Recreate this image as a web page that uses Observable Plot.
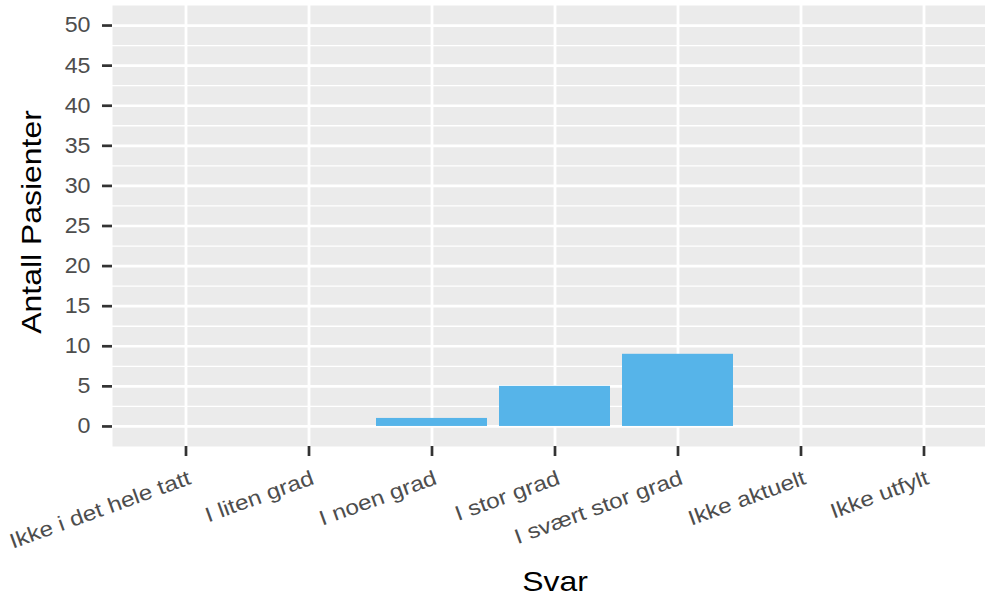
<!DOCTYPE html>
<html>
<head>
<meta charset="utf-8">
<script src="https://cdn.jsdelivr.net/npm/d3@7"></script>
<script src="https://cdn.jsdelivr.net/npm/@observablehq/plot@0.6"></script>
<style>
  html, body { margin: 0; padding: 0; background: #ffffff; }
  #chart svg { display: block; }
</style>
</head>
<body>
<div id="chart"></div>
<script>
const categories = ["Ikke i det hele tatt", "I liten grad", "I noen grad", "I stor grad", "I svært stor grad", "Ikke aktuelt", "Ikke utfylt"];
const counts = [0, 0, 1, 5, 9, 0, 0];
const yTicks = [0, 5, 10, 15, 20, 25, 30, 35, 40, 45, 50];
const yMinor = [2.5, 7.5, 12.5, 17.5, 22.5, 27.5, 32.5, 37.5, 42.5, 47.5];
const xTitle = "Svar";
const yTitle = "Antall Pasienter";

const data = categories.map((c, i) => ({svar: c, n: counts[i]}));

const chart = Plot.plot({
  width: 985,
  height: 600,
  marginLeft: 112,
  marginRight: 0,
  marginTop: 5,
  marginBottom: 154,
  style: {fontFamily: "'Liberation Sans', Arial, sans-serif", background: "#ffffff", overflow: "visible"},
  x: {type: "band", domain: categories, range: [123.5, 984.5], paddingInner: 0.1, paddingOuter: 0.05, axis: null},
  y: {domain: [-2.5, 52.5], axis: null},
  marks: [
    Plot.frame({fill: "#EBEBEB", stroke: "none"}),
    Plot.ruleY(yMinor, {stroke: "#ffffff", strokeWidth: 1.3}),
    Plot.ruleY(yTicks, {stroke: "#ffffff", strokeWidth: 2.7}),
    Plot.ruleX(categories, {x: d => d, stroke: "#ffffff", strokeWidth: 2.8}),
    Plot.barY(data, {x: "svar", y: "n", fill: "#56B4E9"}),
    Plot.axisY({ticks: yTicks, tickSize: 10, tickFormat: () => "", stroke: "#333333", strokeWidth: 2.7, label: null}),
    Plot.text(yTicks, {y: d => d, text: d => String(d), frameAnchor: "left", dx: -22, textAnchor: "end", lineAnchor: "middle", fontSize: 21.5, fill: "#4D4D4D"}),
    Plot.axisX({tickSize: 10, tickFormat: () => "", stroke: "#333333", strokeWidth: 2.7, label: null}),
    Plot.text(categories, {x: d => d, text: d => d, frameAnchor: "bottom", dx: 1, dy: 23, rotate: -20, textAnchor: "end", lineAnchor: "top", fontSize: 21, fill: "#4D4D4D"}),
    Plot.text([xTitle], {text: d => d, frameAnchor: "bottom", dx: 6, dy: 144, lineAnchor: "bottom", fontSize: 28, fill: "#000000"}),
    Plot.text([yTitle], {text: d => d, frameAnchor: "left", dx: -80, dy: -4, rotate: -90, textAnchor: "middle", lineAnchor: "middle", fontSize: 28, fill: "#000000"})
  ]
});

document.getElementById("chart").appendChild(chart);

// widen glyphs along their baseline (the reference font is set wider than Liberation Sans)
const yLabelSet = new Set(yTicks.map(String));
const xLabelSet = new Set(categories);
chart.querySelectorAll("text").forEach(t => {
  const s = t.textContent;
  if (!s) return;
  let k = 1.14;
  if (yLabelSet.has(s)) k = 1.08;
  else if (xLabelSet.has(s)) k = 1.16;
  const len = t.getComputedTextLength();
  if (len > 0) {
    t.setAttribute("textLength", (len * k).toFixed(2));
    t.setAttribute("lengthAdjust", "spacingAndGlyphs");
  }
});
</script>
</body>
</html>
